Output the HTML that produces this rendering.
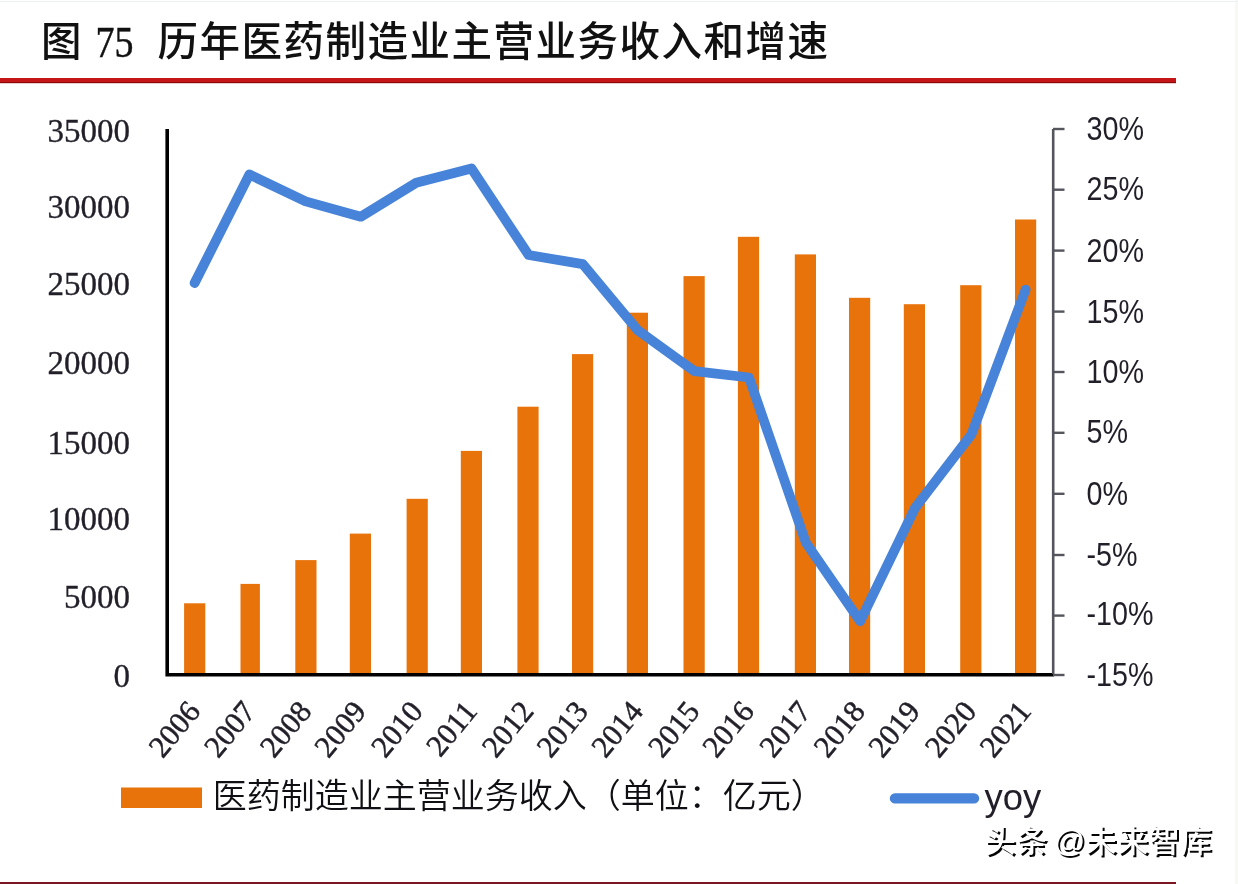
<!DOCTYPE html>
<html lang="zh-CN"><head><meta charset="utf-8"><title>图 75 历年医药制造业主营业务收入和增速</title>
<style>
html,body{margin:0;padding:0;background:#fff;}
body{width:1238px;height:884px;overflow:hidden;position:relative;}
svg{position:absolute;left:0;top:0;display:block;}
.ser{font-family:"Liberation Serif","Noto Serif CJK SC",serif;}
.san{font-family:"Liberation Sans","Noto Sans CJK SC",sans-serif;}
.cjk{font-family:"Liberation Sans","Noto Sans CJK SC","WenQuanYi Zen Hei",sans-serif;}
.wm{position:absolute;left:984.5px;top:819.5px;font-size:31.2px;line-height:44px;white-space:nowrap;color:#fff;font-weight:500;
 font-family:"Liberation Sans","Noto Sans CJK SC","WenQuanYi Zen Hei",sans-serif;text-shadow:2px 2px 0 #050505;word-spacing:-3.4px;letter-spacing:0.45px;}
</style></head><body>
<svg width="1238" height="884" viewBox="0 0 1238 884">
<rect x="0" y="0" width="1238" height="884" fill="#ffffff"/>

<rect x="1235" y="0" width="3" height="884" fill="#F8F8F5"/>
<rect x="0" y="1" width="1238" height="1" fill="#EEF1F4"/>
<text class="cjk" x="41.0" y="55.8" font-size="40.5" font-weight="500" fill="#111">图</text>
<text class="ser" transform="translate(95.6 56.5) scale(1 1.17)" font-size="38" fill="#111" stroke="#111" stroke-width="0.4">75</text>
<text class="cjk" x="157.5" y="55.8" font-size="40.5" letter-spacing="1.5" font-weight="500" fill="#111">历年医药制造业主营业务收入和增速</text>
<rect x="0" y="78" width="1176" height="5" fill="#C41616"/>
<rect x="0" y="82" width="1176" height="1.2" fill="#8E0A0A"/>
<rect x="0" y="882" width="1176" height="2" fill="#7C1522"/>
<rect x="184.1" y="603.3" width="21.2" height="70.7" fill="#E8730B"/>
<rect x="240.5" y="583.9" width="19.4" height="90.1" fill="#E8730B"/>
<rect x="295.3" y="560.1" width="21.2" height="113.9" fill="#E8730B"/>
<rect x="349.8" y="533.6" width="21.2" height="140.4" fill="#E8730B"/>
<rect x="406.6" y="498.8" width="21.2" height="175.2" fill="#E8730B"/>
<rect x="460.8" y="450.9" width="21.2" height="223.1" fill="#E8730B"/>
<rect x="517.4" y="406.7" width="21.2" height="267.3" fill="#E8730B"/>
<rect x="572.0" y="354.1" width="21.2" height="319.9" fill="#E8730B"/>
<rect x="626.8" y="312.7" width="21.2" height="361.3" fill="#E8730B"/>
<rect x="683.5" y="276.1" width="21.2" height="397.9" fill="#E8730B"/>
<rect x="737.9" y="236.8" width="21.2" height="437.2" fill="#E8730B"/>
<rect x="794.8" y="254.4" width="21.2" height="419.6" fill="#E8730B"/>
<rect x="849.0" y="297.8" width="21.2" height="376.2" fill="#E8730B"/>
<rect x="903.8" y="304.2" width="21.2" height="369.8" fill="#E8730B"/>
<rect x="960.2" y="285.2" width="21.2" height="388.8" fill="#E8730B"/>
<rect x="1015.0" y="219.5" width="21.2" height="454.5" fill="#E8730B"/>
<path d="M167.2 129 V674.8 H1054" fill="none" stroke="#000" stroke-width="3.6"/>
<path d="M1053.2 129 V674" fill="none" stroke="#55555E" stroke-width="2.6"/>
<path d="M1053 129.0 H1064.5" stroke="#55555E" stroke-width="2.4"/>
<text class="san" transform="translate(1086.5 139.9) scale(0.87 1)" font-size="33" fill="#221F29">30%</text>
<path d="M1053 189.7 H1064.5" stroke="#55555E" stroke-width="2.4"/>
<text class="san" transform="translate(1086.5 200.2) scale(0.87 1)" font-size="33" fill="#221F29">25%</text>
<path d="M1053 250.6 H1064.5" stroke="#55555E" stroke-width="2.4"/>
<text class="san" transform="translate(1086.5 261.8) scale(0.87 1)" font-size="33" fill="#221F29">20%</text>
<path d="M1053 311.6 H1064.5" stroke="#55555E" stroke-width="2.4"/>
<text class="san" transform="translate(1086.5 322.6) scale(0.87 1)" font-size="33" fill="#221F29">15%</text>
<path d="M1053 372.0 H1064.5" stroke="#55555E" stroke-width="2.4"/>
<text class="san" transform="translate(1086.5 383.0) scale(0.87 1)" font-size="33" fill="#221F29">10%</text>
<path d="M1053 432.8 H1064.5" stroke="#55555E" stroke-width="2.4"/>
<text class="san" transform="translate(1086.5 443.1) scale(0.87 1)" font-size="33" fill="#221F29">5%</text>
<path d="M1053 493.8 H1064.5" stroke="#55555E" stroke-width="2.4"/>
<text class="san" transform="translate(1086.5 504.6) scale(0.87 1)" font-size="33" fill="#221F29">0%</text>
<path d="M1053 555.0 H1064.5" stroke="#55555E" stroke-width="2.4"/>
<text class="san" transform="translate(1086.5 565.6) scale(0.87 1)" font-size="33" fill="#221F29">-5%</text>
<path d="M1053 615.6 H1064.5" stroke="#55555E" stroke-width="2.4"/>
<text class="san" transform="translate(1086.5 625.2) scale(0.87 1)" font-size="33" fill="#221F29">-10%</text>
<path d="M1053 675.0 H1064.5" stroke="#55555E" stroke-width="2.4"/>
<text class="san" transform="translate(1086.5 686.2) scale(0.87 1)" font-size="33" fill="#221F29">-15%</text>
<text class="ser" x="130" y="142.0" font-size="33" text-anchor="end" fill="#221F29" stroke="#221F29" stroke-width="0.35">35000</text>
<text class="ser" x="130" y="217.8" font-size="33" text-anchor="end" fill="#221F29" stroke="#221F29" stroke-width="0.35">30000</text>
<text class="ser" x="130" y="295.4" font-size="33" text-anchor="end" fill="#221F29" stroke="#221F29" stroke-width="0.35">25000</text>
<text class="ser" x="130" y="374.4" font-size="33" text-anchor="end" fill="#221F29" stroke="#221F29" stroke-width="0.35">20000</text>
<text class="ser" x="130" y="454.2" font-size="33" text-anchor="end" fill="#221F29" stroke="#221F29" stroke-width="0.35">15000</text>
<text class="ser" x="130" y="530.0" font-size="33" text-anchor="end" fill="#221F29" stroke="#221F29" stroke-width="0.35">10000</text>
<text class="ser" x="130" y="607.8" font-size="33" text-anchor="end" fill="#221F29" stroke="#221F29" stroke-width="0.35">5000</text>
<text class="ser" x="130" y="687.0" font-size="33" text-anchor="end" fill="#221F29" stroke="#221F29" stroke-width="0.35">0</text>
<path d="M194.6 283.0 L249.4 174.5 L305.6 201.4 L360.8 216.7 L416.2 182.8 L471.5 168.5 L528.6 255.0 L582.8 264.2 L637.8 330.3 L694.5 371.2 L749.0 377.5 L805.8 542.5 L860.1 621.3 L915.0 508.0 L971.4 434.5 L1025.6 289.6" fill="none" stroke="#4783D8" stroke-width="9.8" stroke-linejoin="round" stroke-linecap="round"/>
<text class="ser" transform="translate(201.7 712) rotate(-50.5)" font-size="30.6" text-anchor="end" fill="#221F29" stroke="#221F29" stroke-width="0.5">2006</text>
<text class="ser" transform="translate(257.1 712) rotate(-50.5)" font-size="30.6" text-anchor="end" fill="#221F29" stroke="#221F29" stroke-width="0.5">2007</text>
<text class="ser" transform="translate(312.9 712) rotate(-50.5)" font-size="30.6" text-anchor="end" fill="#221F29" stroke="#221F29" stroke-width="0.5">2008</text>
<text class="ser" transform="translate(367.4 712) rotate(-50.5)" font-size="30.6" text-anchor="end" fill="#221F29" stroke="#221F29" stroke-width="0.5">2009</text>
<text class="ser" transform="translate(424.2 712) rotate(-50.5)" font-size="30.6" text-anchor="end" fill="#221F29" stroke="#221F29" stroke-width="0.5">2010</text>
<text class="ser" transform="translate(478.4 712) rotate(-50.5)" font-size="30.6" text-anchor="end" fill="#221F29" stroke="#221F29" stroke-width="0.5">2011</text>
<text class="ser" transform="translate(535.0 712) rotate(-50.5)" font-size="30.6" text-anchor="end" fill="#221F29" stroke="#221F29" stroke-width="0.5">2012</text>
<text class="ser" transform="translate(589.6 712) rotate(-50.5)" font-size="30.6" text-anchor="end" fill="#221F29" stroke="#221F29" stroke-width="0.5">2013</text>
<text class="ser" transform="translate(644.4 712) rotate(-50.5)" font-size="30.6" text-anchor="end" fill="#221F29" stroke="#221F29" stroke-width="0.5">2014</text>
<text class="ser" transform="translate(701.1 712) rotate(-50.5)" font-size="30.6" text-anchor="end" fill="#221F29" stroke="#221F29" stroke-width="0.5">2015</text>
<text class="ser" transform="translate(755.5 712) rotate(-50.5)" font-size="30.6" text-anchor="end" fill="#221F29" stroke="#221F29" stroke-width="0.5">2016</text>
<text class="ser" transform="translate(812.4 712) rotate(-50.5)" font-size="30.6" text-anchor="end" fill="#221F29" stroke="#221F29" stroke-width="0.5">2017</text>
<text class="ser" transform="translate(866.6 712) rotate(-50.5)" font-size="30.6" text-anchor="end" fill="#221F29" stroke="#221F29" stroke-width="0.5">2018</text>
<text class="ser" transform="translate(921.4 712) rotate(-50.5)" font-size="30.6" text-anchor="end" fill="#221F29" stroke="#221F29" stroke-width="0.5">2019</text>
<text class="ser" transform="translate(977.8 712) rotate(-50.5)" font-size="30.6" text-anchor="end" fill="#221F29" stroke="#221F29" stroke-width="0.5">2020</text>
<text class="ser" transform="translate(1032.6 712) rotate(-50.5)" font-size="30.6" text-anchor="end" fill="#221F29" stroke="#221F29" stroke-width="0.5">2021</text>
<rect x="121" y="787.5" width="81" height="20.5" fill="#E8730B"/>
<text class="cjk" x="212.7" y="808" font-size="34" font-weight="350" fill="#0f0f14">医药制造业主营业务收入（单位：亿元）</text>
<path d="M895 798.4 H974" stroke="#4783D8" stroke-width="10.4" stroke-linecap="round"/>
<text class="san" x="984.5" y="809.5" font-size="36.5" fill="#221F29">yoy</text>
</svg>
<div class="wm">头条 @未来智库</div>
</body></html>
